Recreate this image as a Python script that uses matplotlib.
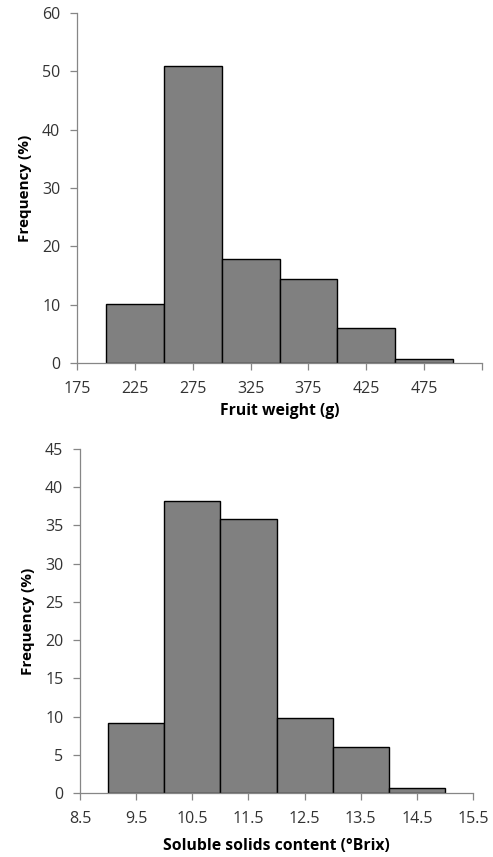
import numpy as np
import matplotlib.pyplot as plt

plt.rcParams['font.family'] = ['Open Sans', 'DejaVu Sans']

# fruit weight histogram
fw_edges = [200, 250, 300, 350, 400, 450, 500]
fw_freq = [10.2, 50.9, 17.9, 14.4, 6.0, 0.7]
fw_ticks = [175, 225, 275, 325, 375, 425, 475, 525]
fw_labels = ['175', '225', '275', '325', '375', '425', '475', '']

# soluble solids histogram
ssc_edges = [9, 10, 11, 12, 13, 14, 15]
ssc_freq = [9.1, 38.2, 35.9, 9.8, 6.0, 0.7]
ssc_ticks = [8.5, 9.5, 10.5, 11.5, 12.5, 13.5, 14.5, 15.5]
ssc_labels = ['8.5', '9.5', '10.5', '11.5', '12.5', '13.5', '14.5', '15.5']

W, H = 493, 857
fig = plt.figure(figsize=(W / 100, H / 100), dpi=100)

def panel(rect, edges, freq, ticks, labels, ymax, ystep, xlabel, xlab_y, ylab_x):
    ax = fig.add_axes(rect)
    left = edges[:-1]
    widths = np.diff(edges)
    ax.bar(left, freq, width=widths, align='edge', color='#808080',
           edgecolor='black', linewidth=1.0)
    ax.set_xlim(ticks[0], ticks[-1])
    ax.set_ylim(0, ymax)
    ax.set_xticks(ticks)
    ax.set_xticklabels(labels)
    ax.set_yticks(np.arange(0, ymax + 0.1, ystep))
    for s in ['top', 'right']:
        ax.spines[s].set_visible(False)
    for s in ['left', 'bottom']:
        ax.spines[s].set_color('#868686')
        ax.spines[s].set_linewidth(0.9)
    ax.tick_params(axis='both', colors='#868686', labelcolor='#333333',
                   labelsize=11.5, length=5, width=0.9)
    ax.tick_params(axis='x', pad=8)
    ax.tick_params(axis='y', pad=7)
    ax.set_ylabel('Frequency (%)', fontsize=11, fontweight='bold')
    ax.yaxis.set_label_coords(ylab_x, 0.5)
    ax.set_xlabel(xlabel, fontsize=11.3, fontweight='bold')
    ax.xaxis.set_label_coords(0.5, xlab_y)
    return ax

# top chart: axes from x=77..482, y=13..363
panel([77 / W, 1 - 363 / H, (482 - 77) / W, (363 - 13) / H],
      fw_edges, fw_freq, fw_ticks, fw_labels, 60, 10,
      'Fruit weight (g)', -0.115, -0.111)

# bottom chart: axes from x=80..473, y=449..793
panel([80 / W, 1 - 793 / H, (473 - 80) / W, (793 - 449) / H],
      ssc_edges, ssc_freq, ssc_ticks, ssc_labels, 45, 5,
      'Soluble solids content (°Brix)', -0.13, -0.115)

fig.savefig('out.png', dpi=100)
